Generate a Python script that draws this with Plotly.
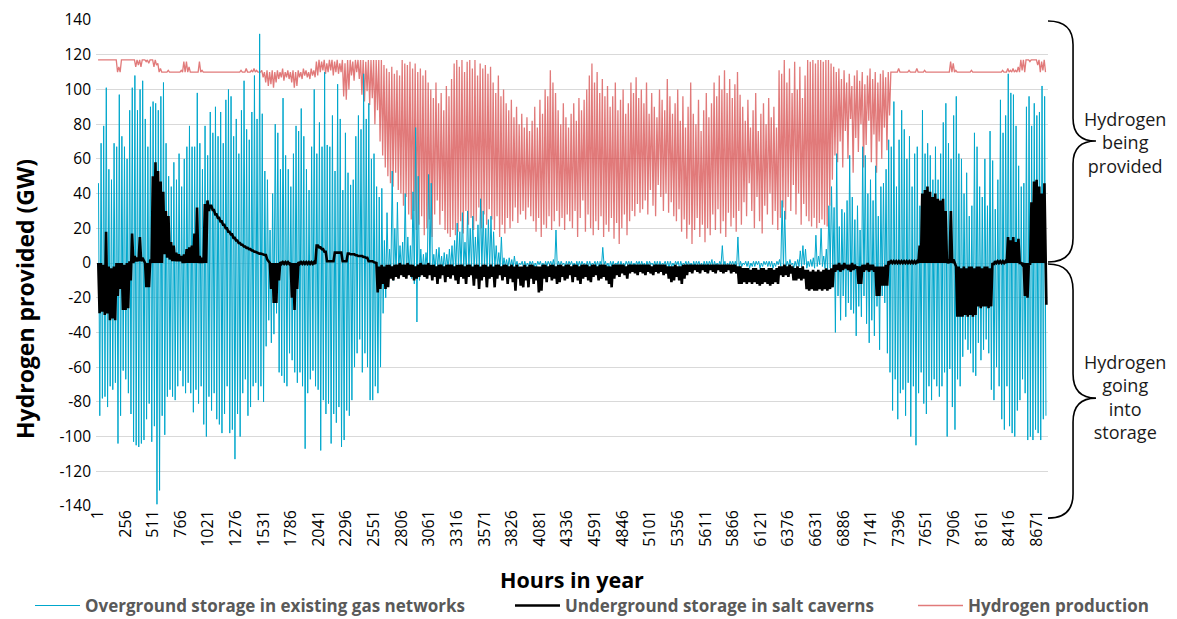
import plotly.graph_objects as go

# ---------------- data (daily envelopes, GW) ----------------
# Overground storage in existing gas networks: daily peak (provided) and trough (into storage)
blue_hi = [
    46, 69, 79, 101, 54, 48, 69, 67, 97, 73,
    67, 60, 88, 101, 108, 88, 100, 105, 83, 67,
    90, 93, 92, 88, 96, 104, 69, 50, 44, 58,
    48, 63, 44, 60, 67, 79, 67, 67, 98, 69,
    54, 79, 62, 87, 75, 90, 73, 87, 69, 94,
    100, 96, 73, 83, 63, 88, 105, 77, 71, 87,
    108, 83, 132, 86, 53, 48, 19, 40, 80, 75,
    54, 95, 62, 54, 44, 63, 79, 76, 89, 73,
    54, 42, 67, 100, 63, 81, 67, 110, 68, 67,
    85, 53, 103, 83, 42, 75, 52, 45, 48, 73,
    85, 77, 109, 83, 92, 60, 63, 44, 38, 43,
    13, 29, 8, 53, 20, 35, 10, 12, 40, 15,
    10, 41, 78, 50, 8, 5, 6, 51, 46, 5,
    8, 9, 4, 6, 5, 8, 10, 13, 23, 18,
    29, 12, 30, 20, 27, 15, 22, 37, 30, 20,
    25, 27, 18, 10, 6, 15, 3, 2, 3, 2,
    4, 1, 0, 1, 1, 0, 1, 1, 0, 1,
    1, 0, 1, 1, 1, 2, 19, 1, 1, 0,
    1, 1, 1, 0, 1, 1, 1, 0, 1, 1,
    0, 1, 1, 1, 9, 1, 0, 1, 1, 0,
    1, 1, 0, 1, 1, 1, 0, 1, 1, 1,
    0, 1, 1, 0, 1, 1, 1, 0, 1, 1,
    1, 0, 1, 1, 1, 0, 1, 1, 0, 1,
    1, 1, 0, 1, 1, 1, 2, 1, 0, 1,
    10, 1, 0, 1, 1, 1, 15, 1, 0, 1,
    1, 0, 1, 1, 1, 0, 1, 1, 1, 1,
    0, 1, 2, 36, 30, 1, 2, 0, 1, 2,
    7, 10, 8, 1, 2, 3, 16, 4, 20, 4,
    8, 33, 44, 32, 63, 21, 31, 29, 36, 62,
    38, 25, 33, 19, 67, 62, 40, 48, 36, 56,
    27, 44, 46, 54, 71, 67, 93, 44, 71, 88,
    77, 60, 73, 44, 63, 67, 33, 88, 63, 69,
    62, 48, 67, 48, 63, 81, 92, 69, 60, 85,
    96, 63, 60, 40, 52, 27, 33, 75, 67, 44,
    38, 60, 33, 76, 59, 31, 48, 94, 75, 85,
    109, 98, 97, 79, 56, 44, 46, 90, 96, 79,
    92, 85, 87, 102, 96,
]
blue_lo = [
    -88, -78, -77, -83, -71, -73, -69, -104, -88, -62,
    -67, -75, -87, -103, -105, -106, -104, -102, -90, -81,
    -103, -94, -139, -131, -88, -99, -77, -73, -77, -79,
    -71, -62, -71, -75, -69, -75, -86, -73, -81, -71,
    -93, -100, -77, -85, -75, -90, -93, -98, -87, -71,
    -98, -96, -113, -87, -100, -75, -67, -88, -83, -71,
    -69, -79, -71, -80, -48, -33, -46, -41, -29, -63,
    -65, -69, -71, -52, -56, -63, -69, -63, -71, -107,
    -75, -67, -62, -71, -73, -108, -79, -87, -81, -104,
    -87, -92, -83, -106, -102, -85, -88, -79, -60, -52,
    -44, -63, -52, -60, -79, -79, -71, -75, -60, -29,
    -20, -8, -6, -10, -8, -6, -5, -7, -8, -6,
    -9, -12, -34, -10, -6, -5, -4, -6, -5, -4,
    -3, -4, -5, -3, -4, -3, -5, -4, -3, -4,
    -3, -5, -4, -3, -4, -3, -4, -5, -3, -4,
    -3, -4, -3, -2, -3, -4, -2, -3, -2, -3,
    -2, -2, -1, -3, -2, -2, -1, -3, -2, -1,
    -2, -3, -2, -1, -2, -3, -2, -2, -1, -3,
    -2, -1, -2, -3, -2, -2, -1, -3, -2, -2,
    -1, -2, -3, -2, -1, -2, -3, -2, -2, -1,
    -3, -2, -2, -1, -2, -3, -2, -1, -2, -2,
    -3, -2, -1, -2, -2, -3, -2, -1, -2, -3,
    -2, -2, -1, -3, -2, -1, -2, -2, -3, -2,
    -1, -2, -3, -2, -2, -1, -3, -2, -2, -1,
    -2, -3, -2, -1, -2, -2, -3, -2, -1, -2,
    -3, -2, -2, -1, -3, -2, -1, -2, -2, -3,
    -2, -1, -2, -3, -2, -2, -1, -3, -2, -2,
    -2, -1, -3, -2, -2, -3, -2, -1, -2, -3,
    -4, -3, -5, -40, -19, -33, -19, -31, -23, -27,
    -29, -42, -25, -31, -19, -35, -46, -33, -42, -25,
    -50, -19, -23, -52, -63, -85, -67, -90, -75, -73,
    -88, -69, -100, -71, -105, -75, -63, -81, -87, -71,
    -79, -67, -71, -77, -71, -63, -100, -61, -83, -96,
    -67, -71, -54, -44, -50, -52, -63, -65, -46, -56,
    -50, -44, -52, -73, -79, -60, -71, -90, -96, -71,
    -94, -98, -100, -85, -79, -67, -75, -102, -100, -102,
    -96, -98, -102, -90, -88,
]

# Underground storage in salt caverns: daily high and low
black_hi = [
    0, 0, -1, 18, -2, -3, -2, 0, 0, 0,
    -1, 0, 1, 17, 4, 3, 15, 3, 0, 0,
    2, 50, 58, 53, 47, 41, 30, 27, 12, 10,
    6, 5, 4, 5, 8, 9, 10, 17, 32, 4,
    3, 34, 36, 33, 30.5, 28, 26, 24, 22, 20,
    18, 16.5, 14.5, 13, 11.5, 10.5, 9.5, 8.7, 8, 7.2,
    6.5, 6, 5.4, 5, 4.6, 2, 0, 0, 0, 0,
    0.5, 0.5, 0.5, 0.5, 0, 0, 0, 0.5, 0.5, 0.5,
    0.5, 0.5, 0.5, 0.5, 10, 9, 8, 6.5, 1, 1,
    1, 6, 6, 6, 1, 1, 5.5, 5, 5, 4.5,
    4, 4, 3.5, 3, 1, 1, 0.5, 0, -2, -1,
    -2, -1, -1, -2, -1, -1, 0, -1, -1, 0,
    -1, -1, -2, -1, 0, -1, -1, 0, -1, -1,
    -2, -1, -1, -2, -1, -1, -1, -2, -1, -1,
    -1, -2, -1, -1, -2, -1, -1, -2, -1, -1,
    -2, -1, -2, -1, -1, -2, -1, -1, -2, -1,
    -2, -1, -2, -2, -1, -2, -1, -1, -2, -2,
    -2, -1, -1, -2, -1, -1, -2, -1, -1, -2,
    -1, -1, -2, -1, -1, -2, -1, -1, -1, -2,
    -1, -1, -2, -1, -1, -1, -2, -2, -1, -1,
    -1, -1, -1, -2, -1, -1, -1, -1, -1, -1,
    -1, -1, -1, -2, -1, -1, -1, -1, -1, -2,
    -2, -2, -1, -2, -2, -1, -1, -1, -1, -1,
    -1, -1, -1, -1, -1, -1, -1, -1, -1, -1,
    -1, -1, -1, -1, -1, -1, -2, -2, -3, -3,
    -3, -4, -3, -3, -4, -3, -3, -4, -3, -3,
    -4, -3, -2, -2, -1, -2, -1, -2, -3, -2,
    -3, -2, -4, -4, -5, -4, -5, -4, -5, -4,
    -3, -4, -3, -1, -1, 0, -1, 0, -1, -1,
    0, -1, -2, -2, -1, -1, 0, -1, -1, -2,
    -2, -2, -2, -1, 1, 1, 1, 1, 1, 1,
    1, 1, 1, 1, 1, 1, 10, 40, 42, 44,
    41, 38, 40, 37, 36, 37, 30, 1, 30, 2,
    -2, -2, -3, -2, -3, -2, -2, -3, -2, -2,
    -3, -2, -2, -3, 0, 1, 1, 1, 1, 1,
    15, 13, 15, 12, 14, 0, 0, 0, 0, 35,
    47, 48, 44, 40, 46,
]
black_lo = [
    -29, -28, -30, -29, -33, -32, -33, -19, -15, -27,
    -27, -26, -10, 0, 1, 1, 1, 1, -14, -14,
    0, 0, 0, 0, 0, 5, 3, 2, 1, 1,
    1, 1, 0, 0, 0, 0, 0, 0, 0, 0,
    0, 0, 30, 33, 30.5, 28, 26, 24, 22, 20,
    18, 16.5, 14.5, 13, 11.5, 10.5, 9.5, 8.7, 8, 7.2,
    6.5, 6, 5.4, 5, 4.6, 1, -15, -23, -23, -10,
    -0.5, -0.5, -0.5, -0.5, -20, -27, -15, -0.5, -0.5, -0.5,
    -0.5, -0.5, -0.5, -0.5, 10, 9, 8, 6.5, 1, 1,
    1, 6, 6, 6, 1, 1, 5.5, 5, 5, 4.5,
    4, 4, 3.5, 3, 1, 1, 0, -17, -15, -12,
    -15, -14, -9, -10, -8, -9, -7, -8, -9, -7,
    -8, -10, -9, -8, -7, -8, -9, -7, -10, -8,
    -12, -9, -7, -11, -8, -9, -7, -10, -12, -8,
    -9, -12, -8, -7, -13, -9, -15, -10, -8, -14,
    -9, -8, -14, -9, -7, -10, -8, -12, -9, -11,
    -16, -9, -13, -14, -10, -14, -9, -12, -10, -17,
    -16, -9, -11, -8, -10, -9, -12, -11, -8, -10,
    -9, -7, -11, -8, -10, -12, -9, -8, -10, -11,
    -8, -7, -10, -9, -8, -10, -12, -14, -9, -7,
    -8, -6, -7, -9, -6, -5, -6, -7, -5, -6,
    -7, -5, -6, -7, -5, -6, -5, -7, -6, -9,
    -11, -10, -8, -10, -12, -9, -7, -5, -6, -4,
    -5, -6, -4, -5, -6, -4, -5, -6, -4, -5,
    -6, -5, -4, -6, -5, -6, -12, -12, -11, -12,
    -11, -12, -11, -12, -13, -12, -11, -12, -13, -12,
    -11, -12, -7, -8, -7, -8, -6, -10, -10, -9,
    -10, -9, -15, -16, -15, -16, -16, -15, -16, -15,
    -16, -15, -14, -5, -4, -5, -4, -3, -4, -5,
    -4, -3, -12, -12, -5, -4, -5, -4, -5, -19,
    -19, -13, -13, -13, 0, 0, 0, 0, 0, 0,
    0, 0, 0, 0, 0, 0, 0, 0, 0, 0,
    0, 0, 0, 0, 0, 0, 0, 0, 0, 0,
    -31, -31, -31, -30, -31, -30, -31, -30, -25, -26,
    -25, -25, -26, -25, -1, 0, 0, 0, 0, 0,
    0, 0, 0, 0, 0, -1, -19, -20, -1, 0,
    0, 0, 0, 0, 0,
]
black_last = -24   # final hour of the year

# Hydrogen production: daily high and low
red_hi = [
    117, 117, 117, 117, 117, 117, 117, 117, 113, 117,
    117, 117, 117, 117, 117, 117, 117, 117, 117, 117,
    117, 117, 117, 115, 112, 110, 110, 111, 110, 110,
    110, 110, 111, 116, 116, 113, 110, 110, 110, 116,
    111, 110, 110, 110, 110, 110, 110, 110, 110, 110,
    110, 110, 110, 110, 110, 111, 110, 112, 110, 111,
    112, 111, 110, 111, 110, 111, 110, 111, 110, 111,
    110, 112, 110, 111, 110, 111, 110, 111, 110, 112,
    111, 110, 112, 111, 116, 117, 116, 117, 115, 117,
    117, 116, 117, 115, 117, 115, 117, 117, 116, 117,
    117, 117, 117, 116, 117, 117, 117, 117, 117, 117,
    114, 112, 110, 113, 109, 111, 108, 117, 115, 114,
    116, 112, 115, 110, 112, 108, 111, 104, 100, 95,
    104, 92, 98, 88, 102, 96, 106, 115, 117, 113,
    117, 110, 116, 117, 112, 117, 108, 115, 112, 114,
    109, 113, 104, 98, 108, 96, 100, 92, 88, 94,
    84, 90, 80, 86, 78, 84, 76, 82, 90, 78,
    94, 86, 100, 96, 111, 104, 98, 88, 80, 92,
    84, 78, 86, 92, 82, 95, 88, 94, 100, 108,
    115, 104, 110, 98, 106, 96, 102, 90, 96, 104,
    88, 94, 100, 86, 92, 104, 98, 107, 95, 100,
    92, 104, 86, 98, 90, 84, 100, 94, 88, 106,
    96, 86, 92, 100, 82, 96, 78, 90, 104, 86,
    80, 94, 76, 88, 98, 84, 92, 104, 96, 108,
    100, 111, 98, 106, 95, 103, 110, 97, 90, 82,
    94, 78, 88, 98, 76, 86, 92, 80, 95, 84,
    90, 78, 111, 109, 117, 104, 112, 98, 116, 100,
    113, 95, 108, 117, 116, 117, 115, 117, 117, 116,
    117, 117, 115, 113, 110, 112, 106, 111, 104, 109,
    102, 108, 111, 105, 110, 103, 108, 112, 106, 110,
    104, 109, 111, 107, 110, 110, 110, 110, 112, 110,
    110, 110, 111, 110, 110, 112, 110, 110, 111, 110,
    110, 110, 110, 110, 110, 110, 110, 110, 116, 115,
    111, 110, 110, 110, 110, 110, 111, 110, 110, 110,
    110, 110, 110, 110, 110, 110, 110, 110, 111, 110,
    112, 111, 112, 111, 113, 117, 117, 117, 117, 117,
    117, 117, 117, 116, 117,
]
red_lo = [
    117, 117, 117, 117, 117, 117, 117, 110, 110, 117,
    117, 117, 117, 117, 113, 114, 113, 117, 116, 115,
    117, 113, 114, 110, 110, 110, 110, 110, 110, 110,
    110, 110, 110, 110, 110, 110, 110, 110, 110, 110,
    110, 110, 110, 110, 110, 110, 110, 110, 110, 110,
    110, 110, 110, 110, 110, 110, 110, 110, 110, 110,
    110, 110, 110, 107, 104, 102, 103, 101, 104, 106,
    107, 105, 107, 106, 104, 101, 102, 107, 106, 108,
    107, 106, 108, 107, 108, 110, 111, 109, 110, 111,
    108, 110, 109, 110, 96, 94, 100, 108, 105, 110,
    106, 97, 93, 99, 91, 95, 80, 88, 70, 62,
    55, 50, 46, 44, 52, 42, 40, 33, 38, 28,
    25, 30, 19, 22, 27, 16, 20, 25, 15, 28,
    36, 22, 30, 19, 17, 15, 19, 16, 18, 24,
    17, 30, 22, 26, 19, 24, 32, 20, 28, 22,
    31, 25, 19, 27, 15, 22, 17, 26, 20, 24,
    32, 23, 28, 30, 25, 32, 27, 24, 18, 26,
    15, 22, 20, 27, 19, 24, 30, 21, 26, 19,
    28, 24, 20, 30, 15, 26, 36, 18, 28, 20,
    16, 24, 19, 27, 15, 22, 18, 26, 14, 23,
    11, 20, 28, 16, 24, 30, 27, 34, 29, 31,
    36, 28, 42, 33, 27, 45, 38, 30, 40, 29,
    35, 27, 24, 31, 18, 25, 14, 22, 11, 19,
    26, 15, 22, 12, 20, 16, 28, 19, 31, 17,
    24, 15, 29, 21, 26, 18, 30, 22, 35, 27,
    46, 30, 20, 38, 24, 17, 33, 28, 40, 22,
    30, 19, 26, 32, 25, 38, 30, 45, 28, 40,
    22, 34, 27, 24, 21, 26, 20, 23, 25, 22,
    21, 33, 48, 62, 58, 70, 55, 76, 60, 83,
    52, 72, 64, 80, 55, 68, 82, 58, 74, 52,
    70, 60, 78, 65, 85, 110, 110, 110, 110, 110,
    110, 110, 110, 110, 110, 110, 110, 110, 110, 110,
    110, 110, 110, 110, 110, 110, 110, 110, 110, 110,
    110, 110, 110, 110, 110, 110, 110, 110, 110, 110,
    110, 110, 110, 110, 110, 110, 110, 110, 110, 110,
    110, 110, 110, 110, 110, 111, 110, 117, 116, 117,
    117, 114, 110, 111, 110,
]

x_tick_hours = [1 + 255 * k for k in range(35)]          # 1, 256, ..., 8671
x_tick_labels = [str(h) for h in x_tick_hours]
y_tick_vals = list(range(-140, 141, 20))
y_tick_labels = [str(v) for v in y_tick_vals]           # plain hyphen minus, as in the source
names = ["Overground storage in existing gas networks",
         "Underground storage in salt caverns",
         "Hydrogen production"]


def daily_path(hi, lo, h_off, l_off):
    xs, ys = [], []
    for d, (h, l) in enumerate(zip(hi, lo)):
        xs += [d * 24 + h_off, d * 24 + l_off]
        ys += [h, l]
    return xs, ys


rx, ry = daily_path(red_hi, red_lo, 4, 16)
bx, by = daily_path(blue_hi, blue_lo, 8, 20)
kx, ky = daily_path(black_hi, black_lo, 6, 18)
kx.append(8760)
ky.append(black_last)

BLUE = "#00A7CC"
RED = "rgba(214,76,76,0.74)"

fig = go.Figure()
fig.add_trace(go.Scatter(x=rx, y=ry, mode="lines", name=names[2], legend="legend3",
                         line=dict(color=RED, width=1.3)))
fig.add_trace(go.Scatter(x=bx, y=by, mode="lines", name=names[0], legend="legend",
                         line=dict(color=BLUE, width=1)))
fig.add_trace(go.Scatter(x=kx, y=ky, mode="lines", name=names[1], legend="legend2",
                         line=dict(color="#000000", width=2.6)))

FONT = "Open Sans"
LEG_FONT = dict(family=FONT, size=17, color="#595959", weight="bold")


def leg(x):
    return dict(orientation="h", xref="container", yref="container",
                x=x, xanchor="left", y=0.034, yanchor="middle",
                font=LEG_FONT, itemwidth=45, bgcolor="rgba(0,0,0,0)")


# the page is drawn with an 8 px body offset, so the margins are set 8 px smaller on the left/top
fig.update_layout(
    width=1177, height=619,
    margin=dict(l=88, r=137, t=12, b=121, autoexpand=False),
    paper_bgcolor="white", plot_bgcolor="white",
    font=dict(family=FONT, size=16, color="#000000"),
    showlegend=True,
    legend=leg(0.0187), legend2=leg(0.4265), legend3=leg(0.7689),
    xaxis=dict(range=[-15, 8775], tickmode="array", tickvals=x_tick_hours, ticktext=x_tick_labels,
               tickangle=-90, showgrid=False, zeroline=False, showline=False, ticks="",
               automargin=False,
               tickfont=dict(family=FONT, size=16, color="#000000")),
    yaxis=dict(range=[-140, 140], tickmode="array", tickvals=y_tick_vals, ticktext=y_tick_labels,
               showgrid=True, gridcolor="#D9D9D9", gridwidth=1.3, zeroline=False,
               showline=False, ticks="", automargin=False, ticklabelstandoff=4,
               tickfont=dict(family=FONT, size=15.5, color="#000000")),
)

# axis titles
fig.add_annotation(x=0.5, y=-0.152, xref="paper", yref="paper", showarrow=False,
                   xanchor="center", yanchor="middle", text="<b>Hours in year</b>",
                   font=dict(family=FONT, size=21.5, color="#000000"))
fig.add_annotation(x=-0.0745, y=0.426, xref="paper", yref="paper", showarrow=False,
                   xanchor="center", yanchor="middle", textangle=-90,
                   text="<b>Hydrogen provided (GW)</b>",
                   font=dict(family=FONT, size=23, color="#000000"))

# braces on the right-hand side (paper coordinates)
top_brace = ("M 1.0,0.998 Q 1.0263,0.998 1.0263,0.949 L 1.0263,0.798 "
             "Q 1.0263,0.751 1.0504,0.751 Q 1.0263,0.751 1.0263,0.704 "
             "L 1.0263,0.551 Q 1.0263,0.502 1.0,0.502")
bot_brace = ("M 1.0,0.498 Q 1.0263,0.498 1.0263,0.444 L 1.0263,0.272 "
             "Q 1.0263,0.222 1.0504,0.222 Q 1.0263,0.222 1.0263,0.173 "
             "L 1.0263,0.025 Q 1.0263,-0.025 1.0,-0.025")
for p in (top_brace, bot_brace):
    fig.add_shape(type="path", path=p, xref="paper", yref="paper",
                  line=dict(color="#000000", width=1.6))

fig.add_annotation(x=1.081, y=0.747, xref="paper", yref="paper", showarrow=False,
                   xanchor="center", yanchor="middle",
                   text="Hydrogen<br>being<br>provided", align="center",
                   font=dict(family=FONT, size=18, color="#1a1a1a"))
fig.add_annotation(x=1.081, y=0.224, xref="paper", yref="paper", showarrow=False,
                   xanchor="center", yanchor="middle",
                   text="Hydrogen<br>going<br>into<br>storage", align="center",
                   font=dict(family=FONT, size=18, color="#1a1a1a"))

fig.write_html("out.html")
